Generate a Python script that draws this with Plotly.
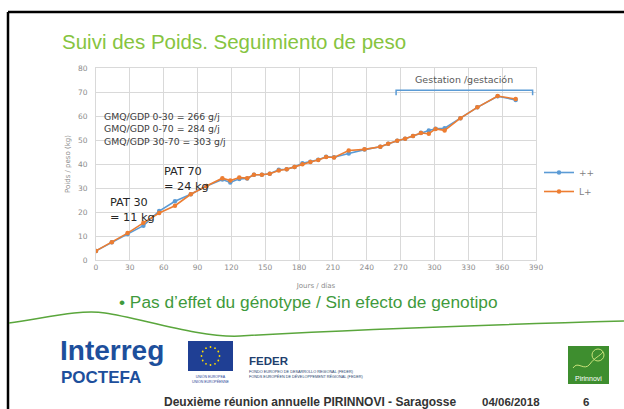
import math
import plotly.graph_objects as go

# Weighing days and body weights (kg) for the two genotypes
days = [0, 14, 28, 42, 56, 70, 84, 98, 112, 119, 127, 134, 140, 147, 154, 162,
        169, 176, 183, 190, 197, 204, 211, 224, 238, 252, 259, 267, 274, 281,
        288, 295, 301, 309, 323, 338, 356, 372]
weight_pp = [3.8, 7.4, 10.8, 14.3, 20.4, 24.5, 27.4, 30.8, 33.5, 32.3, 33.8, 34.0,
             35.5, 35.5, 35.9, 37.6, 37.8, 38.8, 40.3, 40.9, 41.8, 43.0, 42.8, 44.4,
             46.0, 47.2, 48.4, 49.7, 50.5, 51.7, 53.0, 54.0, 54.7, 54.9, 59.1, 63.6,
             68.2, 66.7]
weight_lp = [3.8, 7.4, 11.2, 15.5, 19.6, 22.6, 27.4, 30.8, 34.1, 33.1, 34.4, 34.1,
             35.5, 35.5, 35.9, 37.3, 37.8, 38.8, 39.9, 40.8, 41.7, 42.9, 42.7, 45.6,
             46.1, 47.2, 48.4, 49.7, 50.5, 51.7, 52.9, 52.6, 54.6, 54.0, 59.1, 63.6,
             68.3, 67.1]
series_names = ["++", "L+"]
x_ticks = list(range(0, 391, 30))
y_ticks = list(range(0, 81, 10))
gmq_lines = ["GMQ/GDP 0-30 = 266 g/j", "GMQ/GDP 0-70 = 284 g/j", "GMQ/GDP 30-70 = 303 g/j"]
gestation_span = [266, 387]

# Plot-area geometry in pixels
L, R, T, B = 96, 536, 68, 260
W, H = R - L, B - T


def px(x):
    return (x - L) / W


def py(y):
    return (B - y) / H


def pt(x, y):
    return f"{px(x):.4f},{py(y):.4f}"


CHART_FONT = "DejaVu Sans"
SLIDE_FONT = "Liberation Sans"
GRID = "#d9d9d9"
TICK = "#8c8c8c"

fig = go.Figure()
fig.add_trace(go.Scatter(
    x=days, y=weight_pp, name=series_names[0], mode="lines+markers",
    line=dict(color="#5b9bd5", width=1.6), marker=dict(size=4.5, color="#5b9bd5"),
))
fig.add_trace(go.Scatter(
    x=days, y=weight_lp, name=series_names[1], mode="lines+markers",
    line=dict(color="#ed7d31", width=1.6), marker=dict(size=4.5, color="#ed7d31"),
))

shapes = []
annotations = []


def note(x, y, text, size, color, family=SLIDE_FONT, xanchor="left", align="left"):
    annotations.append(dict(
        x=px(x), y=py(y), xref="paper", yref="paper", text=text,
        xanchor=xanchor, yanchor="middle", align=align, showarrow=False,
        font=dict(family=family, size=size, color=color),
    ))


# Gestation bracket
g0, g1 = gestation_span
shapes.append(dict(
    type="path", xref="x", yref="y",
    path=f"M {g0},68.6 L {g0},70.7 L {g1},70.7 L {g1},68.6",
    line=dict(color="#5b9bd5", width=1.5),
))
annotations.append(dict(
    x=(g0 + g1) / 2, y=75.3, xref="x", yref="y", text="Gestation /gestación",
    xanchor="center", yanchor="middle", showarrow=False,
    font=dict(family=CHART_FONT, size=9.5, color="#595959"),
))

# Average daily gain notes
for i, line in enumerate(gmq_lines):
    note(102, 116 + i * 12.5, line, 9.3, "#404040", family=CHART_FONT)

# Weights at 30 and 70 days
note(108, 210, "PAT 30<br>= 11 kg", 11.3, "#262626", family=CHART_FONT)
note(162, 179, "PAT 70<br>= 24 kg", 11.3, "#262626", family=CHART_FONT)

# Slide frame
shapes.append(dict(type="line", xref="paper", yref="paper", x0=px(8), y0=py(12),
                   x1=px(624), y1=py(12), line=dict(color="black", width=2.5)))
shapes.append(dict(type="line", xref="paper", yref="paper", x0=px(8), y0=py(12),
                   x1=px(8), y1=py(409), line=dict(color="black", width=2.5)))

# Title
note(60, 41, "Suivi des Poids. Seguimiento de peso", 20.5, "#86c440")

# Bullet line
note(117, 302, "• Pas d’effet du génotype / Sin efecto de genotipo", 17.3, "#3f9a3c")

# Green wave across the slide
wave = (f"M {pt(9, 323)} C {pt(45, 318)} {pt(80, 309)} {pt(105, 313)} "
        f"C {pt(140, 318)} {pt(200, 338)} {pt(240, 336)} "
        f"C {pt(330, 331)} {pt(480, 325)} {pt(624, 321)}")
shapes.append(dict(type="path", xref="paper", yref="paper", path=wave,
                   line=dict(color="#5aa63c", width=1.5)))

# Interreg POCTEFA logo
note(58, 350, "<b>Interreg</b>", 28, "#1d4f9c")
note(59, 377, "<b>POCTEFA</b>", 17, "#1d4f9c")

# EU flag
shapes.append(dict(type="rect", xref="paper", yref="paper",
                   x0=px(188), x1=px(233), y0=py(341), y1=py(371),
                   fillcolor="#1f3f94", line=dict(width=0)))
for k in range(12):
    a = 2 * math.pi * k / 12
    cx, cy = 210.5 + 9 * math.cos(a), 356 + 9 * math.sin(a)
    shapes.append(dict(type="circle", xref="paper", yref="paper",
                       x0=px(cx - 0.9), x1=px(cx + 0.9), y0=py(cy - 0.9), y1=py(cy + 0.9),
                       fillcolor="#ffdd00", line=dict(width=0)))
note(210.5, 379, "UNIÓN EUROPEA<br>UNION EUROPÉENNE", 3.5, "#1f3f94",
     xanchor="center", align="center")

# FEDER logo
note(247, 361, "<b>FEDER</b>", 11.5, "#1f3f6e")
note(247, 374, "FONDO EUROPEO DE DESARROLLO REGIONAL (FEDER)<br>"
     "FONDS EUROPÉEN DE DÉVELOPPEMENT RÉGIONAL (FEDER)", 3.8, "#1f3f6e")

# Pirinnovi logo
shapes.append(dict(type="rect", xref="paper", yref="paper",
                   x0=px(568), x1=px(609), y0=py(346), y1=py(384),
                   fillcolor="#3e8e2f", line=dict(width=0)))
leaf = (f"M {pt(573, 368)} C {pt(578, 360)} {pt(584, 372)} {pt(590, 364)} "
        f"C {pt(594, 358)} {pt(600, 356)} {pt(603, 352)}")
shapes.append(dict(type="path", xref="paper", yref="paper", path=leaf,
                   line=dict(color="#c9e27a", width=1)))
shapes.append(dict(type="circle", xref="paper", yref="paper",
                   x0=px(592), x1=px(604), y0=py(361), y1=py(349),
                   line=dict(color="#c9e27a", width=1)))
note(588.5, 378, "Pirinnovi", 7, "white", xanchor="center", align="center")

# Footer
note(162, 402, "<b>Deuxième réunion annuelle PIRINNOVI - Saragosse</b>", 12, "#333333")
note(480, 402, "<b>04/06/2018</b>", 11.5, "#333333")
note(586, 402, "<b>6</b>", 11.5, "#333333", xanchor="center", align="center")

fig.update_layout(
    width=624, height=409,
    margin=dict(l=L, r=624 - R, t=T, b=409 - B, pad=0),
    paper_bgcolor="white", plot_bgcolor="white",
    showlegend=True,
    legend=dict(x=px(539), y=py(158), xanchor="left", yanchor="top",
                font=dict(family=CHART_FONT, size=9, color="#7f7f7f"),
                bgcolor="rgba(0,0,0,0)", tracegroupgap=4, itemwidth=30),
    shapes=shapes, annotations=annotations,
    xaxis=dict(range=[0, 390], tickvals=x_ticks, showgrid=True, gridcolor=GRID,
               gridwidth=1, zeroline=False, showline=True, linecolor=GRID, mirror=True,
               tickfont=dict(family=CHART_FONT, size=7.5, color=TICK), ticks="",
               title=dict(text="Jours / días", standoff=12,
                          font=dict(family=CHART_FONT, size=7, color=TICK))),
    yaxis=dict(range=[0, 80], tickvals=y_ticks, showgrid=True, gridcolor=GRID,
               gridwidth=1, zeroline=False, showline=True, linecolor=GRID, mirror=True,
               tickfont=dict(family=CHART_FONT, size=7.5, color=TICK), ticks="",
               ticklabelstandoff=6,
               title=dict(text="Poids / peso (kg)", standoff=6,
                          font=dict(family=CHART_FONT, size=7, color=TICK))),
)

fig.write_html("out.html")
